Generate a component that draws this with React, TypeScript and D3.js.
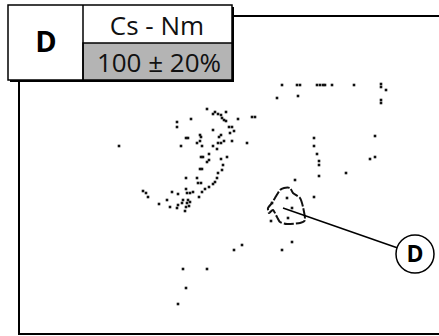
import React from "react";
import * as d3 from "d3";

// spot positions (x, y) in gel units
const spotX = [188,196,194,199,202,207,203,205,207,158,158,172,194,210,213,215,211,167,169,181,182,202,200,213,205,181,178,162,183,194,199,202,198,190,184,182,188,190,202,208,204,181,183,203,199,167,178,179,182,198,196,194,190,186,183,167,174,171,168,153,159,180,124,127,129,148,140,164,169,171,163,168,159,170,158,167,151,166,223,215,164,188,167,159,100,263,278,281,298,301,304,306,313,335,362,362,367,258,279,362,362,233,236,295,295,298,300,300,300,356,356,351,327,276,295,263,273,268,273,269,253,252,228,219];
const spotY = [225,222,220,220,219,222,216,214,213,212,207,215,204,207,207,203,201,196,196,199,197,199,197,193,193,193,191,188,188,188,191,191,185,180,177,177,172,174,175,177,169,165,165,164,161,156,156,151,151,156,152,150,147,145,142,145,142,141,141,142,140,137,143,141,137,134,130,134,134,132,131,131,129,128,126,127,127,123,89,84,65,65,46,30,188,249,249,249,249,249,249,249,249,249,250,247,244,236,238,234,231,217,217,196,188,180,173,169,158,198,177,175,161,154,137,84,92,136,126,116,131,113,191,215];

// outline of the marked spot D
const outlineX = [256,261,265,271,274,281,284,286,281,268,261,258,254,250,249,253];
const outlineY = [136,144,146,146,141,136,127,114,111,110,112,117,124,121,126,131];

const labelLetter = "D";
const titleTop = "Cs - Nm";
const titleBottom = "100 ± 20%";
const calloutTarget = [264, 126];

export default function App() {
  const W = 439, H = 336;
  const x = d3.scaleLinear().domain([0, 420]).range([19, 439]);
  const y = d3.scaleLinear().domain([0, 318]).range([334, 16]);
  const pts = spotX.map((v, i) => [v, spotY[i]]);
  const outline = outlineX.map((v, i) => [x(v), y(outlineY[i])] as [number, number]);
  const path = d3.line().curve(d3.curveCardinalClosed.tension(0.3))(outline) || "";
  const cx = 415, cy = 254, r = 19;
  const tx = x(calloutTarget[0]), ty = y(calloutTarget[1]);
  const ang = Math.atan2(ty - cy, tx - cx);
  return (
    <svg width={W} height={H} style={{ position: "absolute", left: 0, top: 0, background: "#fff" }}>
      <rect x={0} y={0} width={W} height={H} fill="#fff" />
      {/* frame */}
      <rect x={19} y={16} width={440} height={318} fill="none" stroke="#000" strokeWidth={2} />
      {/* spots */}
      {pts.map((p, i) => (
        <rect key={i} x={x(p[0]) - 1.3} y={y(p[1]) - 1.3} width={2.6} height={2.6} fill="#111" />
      ))}
      <path d={path} fill="none" stroke="#111" strokeWidth={2} strokeDasharray="10 2" />
      {/* callout */}
      <line x1={tx} y1={ty} x2={cx + r * Math.cos(ang)} y2={cy + r * Math.sin(ang)} stroke="#000" strokeWidth={1.5} />
      <circle cx={cx} cy={cy} r={r} fill="#fff" stroke="#000" strokeWidth={1.5} />
      <text x={cx} y={cy + 8} textAnchor="middle" fontFamily="Open Sans" fontWeight="bold" fontSize={23} fill="#000">{labelLetter}</text>
      {/* label box */}
      <rect x={10} y={7} width={224} height={75} fill="#000" />
      <rect x={8} y={5} width={224} height={75} fill="#fff" stroke="#000" strokeWidth={1.5} />
      <rect x={83} y={43} width={149} height={37} fill="#b4b4b4" stroke="#000" strokeWidth={1.5} />
      <line x1={83} y1={5} x2={83} y2={80} stroke="#000" strokeWidth={1.5} />
      <text x={46} y={52} textAnchor="middle" fontFamily="Open Sans" fontWeight="bold" fontSize={29} fill="#000">{labelLetter}</text>
      <text x={157} y={35} textAnchor="middle" fontFamily="Open Sans" fontSize={26} fill="#111">{titleTop}</text>
      <text x={159} y={72} textAnchor="middle" fontFamily="Open Sans" fontSize={26} fill="#111">{titleBottom}</text>
    </svg>
  );
}
